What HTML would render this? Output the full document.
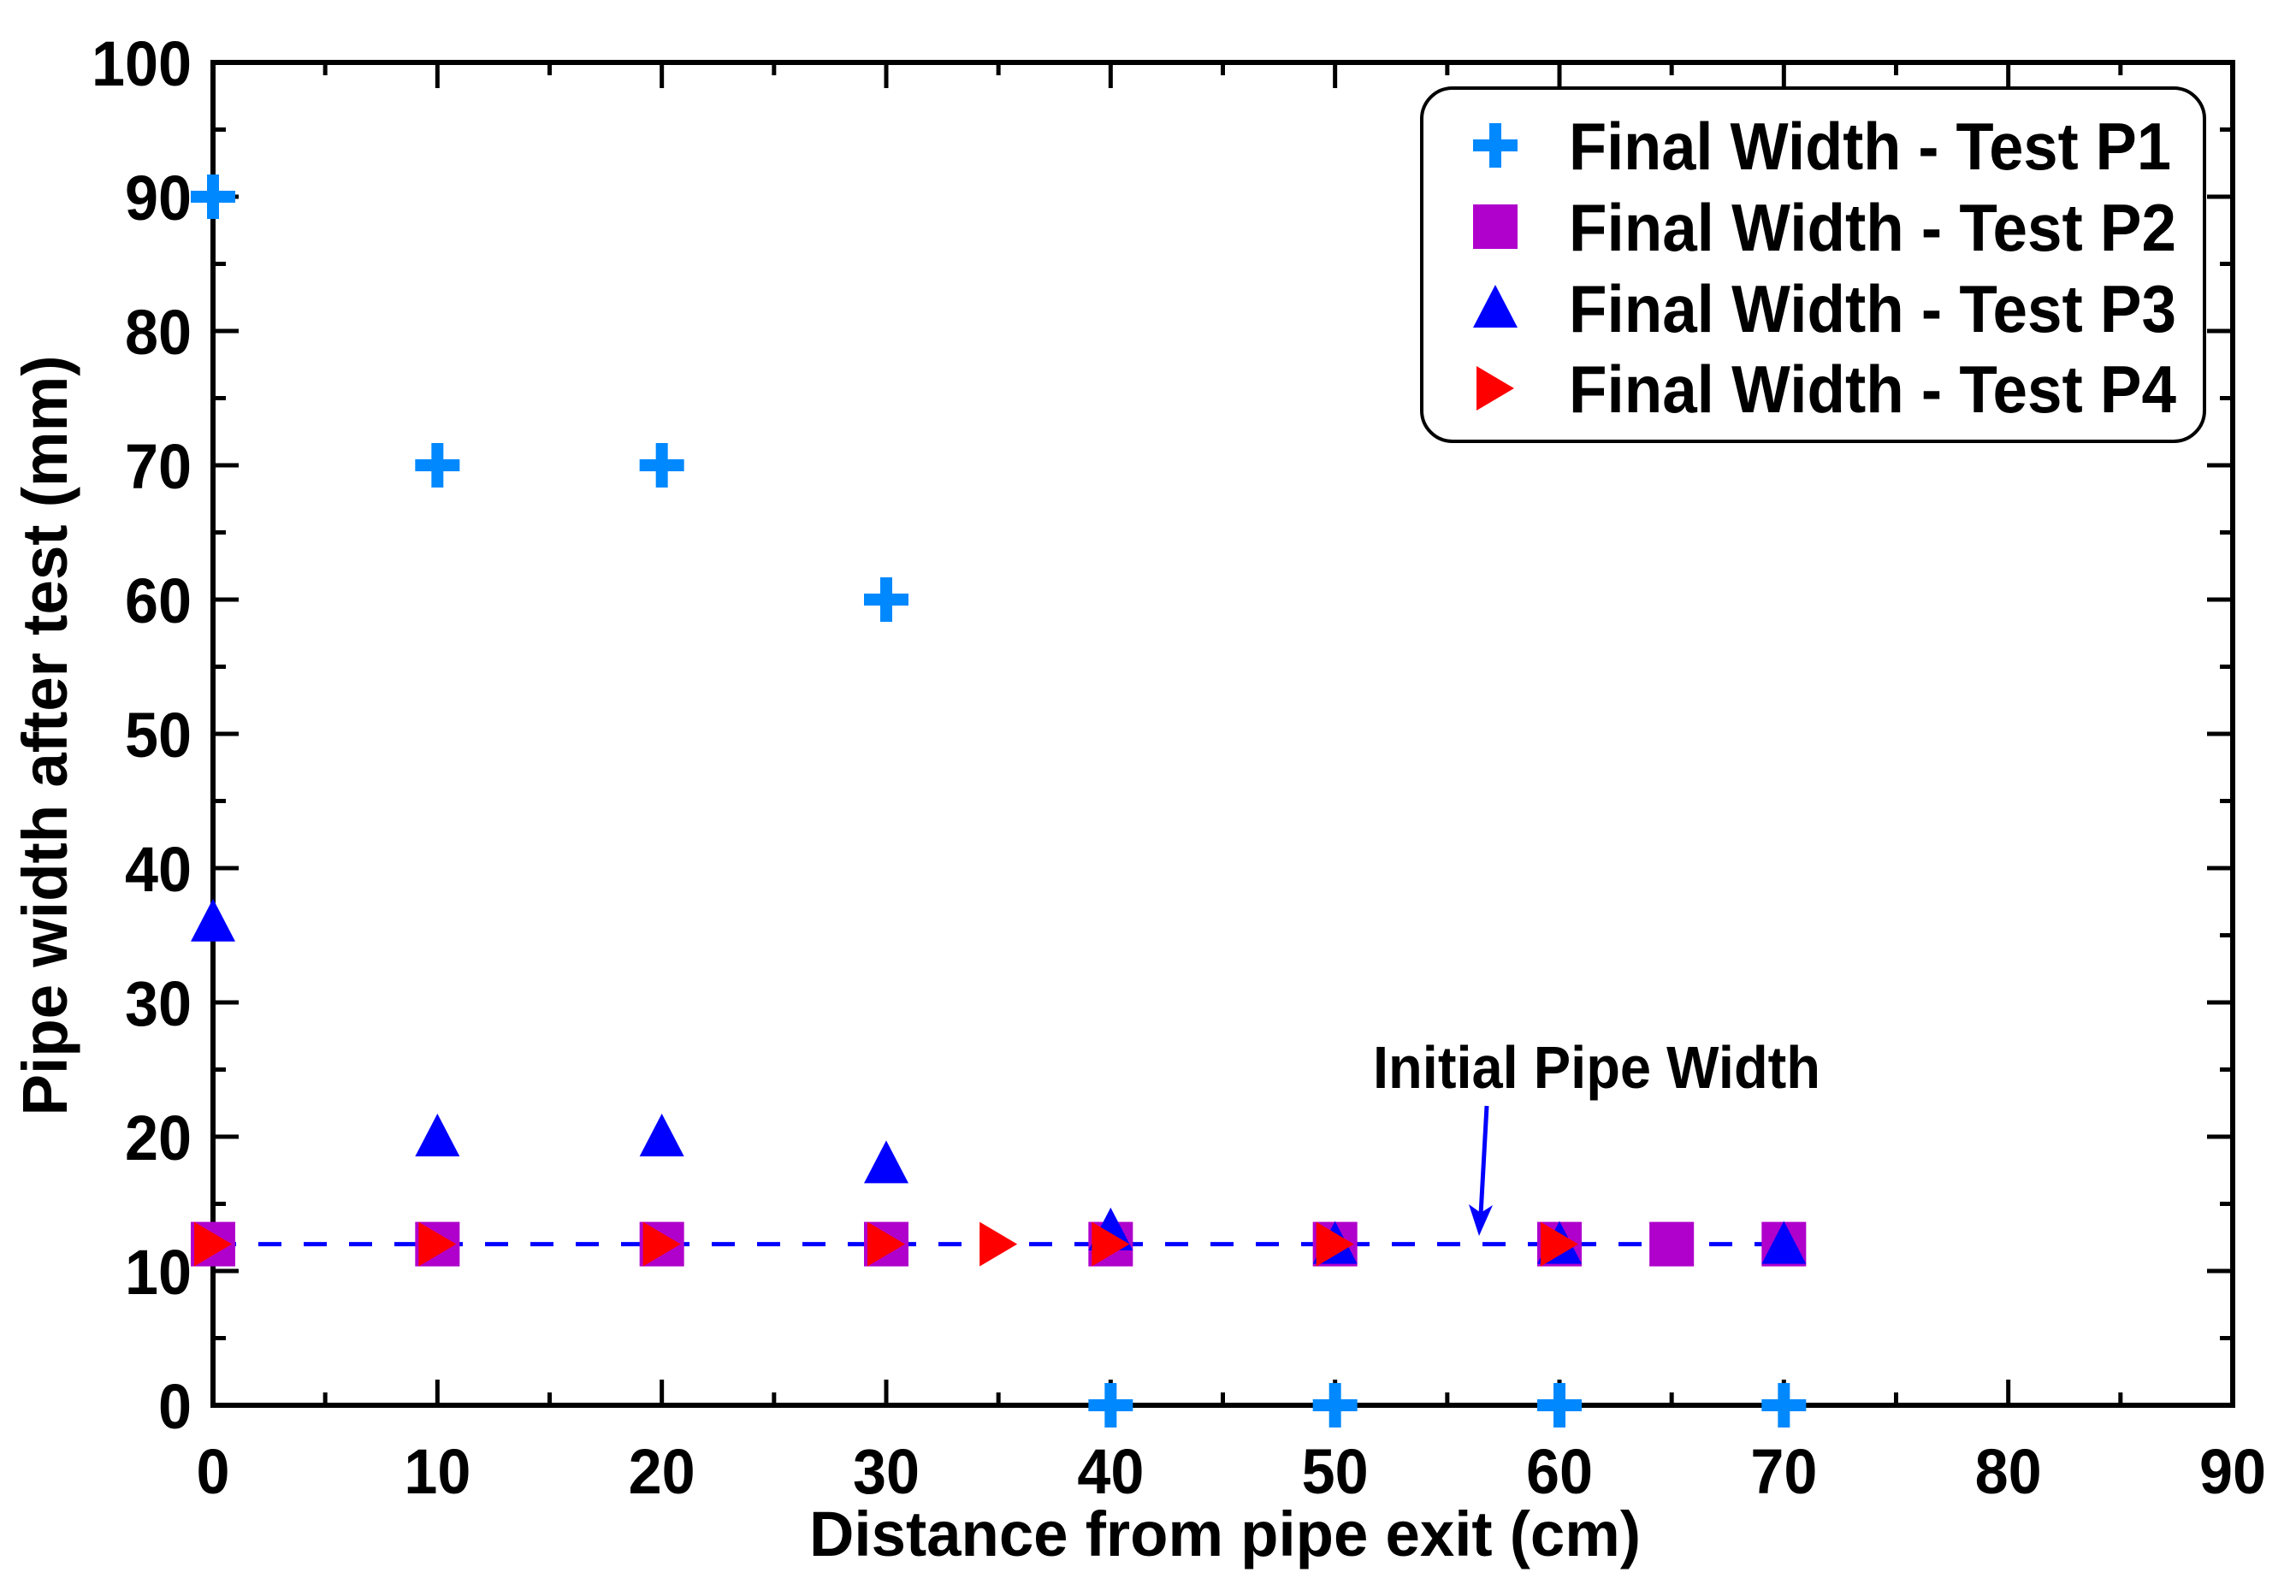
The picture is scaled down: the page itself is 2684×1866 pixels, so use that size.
<!DOCTYPE html>
<html><head><meta charset="utf-8"><style>
html,body{margin:0;padding:0;background:#fff;}
svg{display:block;font-family:"Liberation Sans",Arial,sans-serif;font-weight:bold;}
</style></head><body>
<svg id="chart" width="2684" height="1866" viewBox="0 0 2684 1866" xmlns="http://www.w3.org/2000/svg">
<rect width="2684" height="1866" fill="#fff"/>
<g id="axes"></g>
<g id="marks"></g>
<g id="legend"></g>
</svg>
<script>
const xTicks = [0,10,20,30,40,50,60,70,80,90];
const yTicks = [0,10,20,30,40,50,60,70,80,90,100];
const p1X = [0,10,20,30,40,50,60,70];
const p1Y = [90,70,70,60,0,0,0,0];
const p2X = [0,10,20,30,40,50,60,65,70];
const p2Y = [12,12,12,12,12,12,12,12,12];
const p3X = [0,10,20,30,40,50,60,70];
const p3Y = [36,20,20,18,13,12,12,12];
const p4X = [0,10,20,30,35,40,50,60];
const p4Y = [12,12,12,12,12,12,12,12];
const initialWidth = [12];
const initialRange = [0,70];
const legendLabels = ["Final Width - Test P1","Final Width - Test P2","Final Width - Test P3","Final Width - Test P4"];

const NS="http://www.w3.org/2000/svg";
const X0=249,X1=2610,Y0=1643,Y1=73;
function sx(v){return X0+(v-0)/(90-0)*(X1-X0);}
function sy(v){return Y0-(v-0)/(100-0)*(Y0-Y1);}
function mk(tag,attrs,parent){const e=document.createElementNS(NS,tag);for(const k in attrs)e.setAttribute(k,attrs[k]);parent.appendChild(e);return e;}
const axes=document.getElementById('axes');
const marks=document.getElementById('marks');
const legend=document.getElementById('legend');

const frame=mk('rect',{x:X0,y:Y1,width:X1-X0,height:Y0-Y1,fill:'none',stroke:'#000','stroke-width':6},axes);


for(let v=0;v<=90;v+=5){
  const major=v%10===0, L=major?30:15, x=sx(v);
  const t1=mk('line',{x1:x,y1:Y0,x2:x,y2:Y0-L,stroke:'#000','stroke-width':5},axes);
  
  
  const t2=mk('line',{x1:x,y1:Y1,x2:x,y2:Y1+L,stroke:'#000','stroke-width':5},axes);
  
  
}
for(let v=0;v<=100;v+=5){
  const major=v%10===0, L=major?30:15, y=sy(v);
  const t1=mk('line',{x1:X0,y1:y,x2:X0+L,y2:y,stroke:'#000','stroke-width':5},axes);
  
  
  const t2=mk('line',{x1:X1,y1:y,x2:X1-L,y2:y,stroke:'#000','stroke-width':5},axes);
  
  
}
xTicks.forEach(v=>{
  const s=String(v);
  const t=mk('text',{x:sx(v),y:1746,'font-size':74,'text-anchor':'middle',textLength:s.length*39,lengthAdjust:'spacingAndGlyphs'},axes);
  t.textContent=s;
  
  
});
yTicks.forEach(v=>{
  const s=String(v);
  const t=mk('text',{x:224,y:sy(v)+27,'font-size':74,'text-anchor':'end',textLength:s.length*39,lengthAdjust:'spacingAndGlyphs'},axes);
  t.textContent=s;
  
  
});
const xt=mk('text',{x:1432,y:1819,'font-size':74,'text-anchor':'middle',textLength:972,lengthAdjust:'spacingAndGlyphs'},axes);
xt.textContent='Distance from pipe exit (cm)';


const yt=mk('text',{x:0,y:0,'font-size':74,'text-anchor':'middle',textLength:889,lengthAdjust:'spacingAndGlyphs',transform:'translate(78,860) rotate(-90)'},axes);
yt.textContent='Pipe width after test (mm)';



const dl=mk('line',{x1:sx(initialRange[0]),y1:sy(initialWidth[0]),x2:sx(initialRange[1]),y2:sy(initialWidth[0]),stroke:'#0000ff','stroke-width':5,'stroke-dasharray':'27 26'},marks);



function plus(x,y,c,p){const g=mk('g',{},p);
  mk('rect',{x:x-26,y:y-7,width:52,height:14,fill:c},g);
  mk('rect',{x:x-7,y:y-26,width:14,height:52,fill:c},g);return g;}
function square(x,y,c,p){return mk('rect',{x:x-26,y:y-26,width:52,height:52,fill:c},p);}
function tri(x,y,c,p){return mk('polygon',{points:`${x},${y-27} ${x+26},${y+23} ${x-26},${y+23}`,fill:c},p);}
function rtri(x,y,c,p){return mk('polygon',{points:`${x-22},${y-26} ${x+22},${y} ${x-22},${y+26}`,fill:c},p);}

p1X.forEach((v,i)=>{const e=plus(sx(v),sy(p1Y[i]),'#0088ff',marks);
  
  });
p2X.forEach((v,i)=>{const e=square(sx(v),sy(p2Y[i]),'#b000cc',marks);
  
  });
p3X.forEach((v,i)=>{const e=tri(sx(v),sy(p3Y[i]),'#0000ff',marks);
  
  });
p4X.forEach((v,i)=>{const e=rtri(sx(v),sy(p4Y[i]),'#ff0000',marks);
  
  });

const an=mk('text',{x:1605,y:1272,'font-size':70,textLength:523,lengthAdjust:'spacingAndGlyphs'},marks);
an.textContent='Initial Pipe Width';


const ar=mk('line',{x1:1738,y1:1293,x2:1731,y2:1420,stroke:'#0000ff','stroke-width':5},marks);


const ah=mk('polygon',{points:'1717,1408 1729,1445 1745,1409 1731,1418',fill:'#0000ff'},marks);



const lb=mk('rect',{x:1662,y:103,width:915,height:413,rx:36,fill:'#fff',stroke:'#000','stroke-width':4},legend);


const rowsY=[170,265,360,454];
const fns=[plus,square,tri,rtri];
const cols=['#0088ff','#b000cc','#0000ff','#ff0000'];
const widths=[704,710,710,710];
legendLabels.forEach((lab,i)=>{
  const g=mk('g',{},legend);
  
  
  fns[i](1748,rowsY[i],cols[i],g);
  const t=mk('text',{x:1834,y:rowsY[i]+28,'font-size':78,textLength:widths[i],lengthAdjust:'spacingAndGlyphs'},g);
  t.textContent=lab;
});
</script>
</body></html>
